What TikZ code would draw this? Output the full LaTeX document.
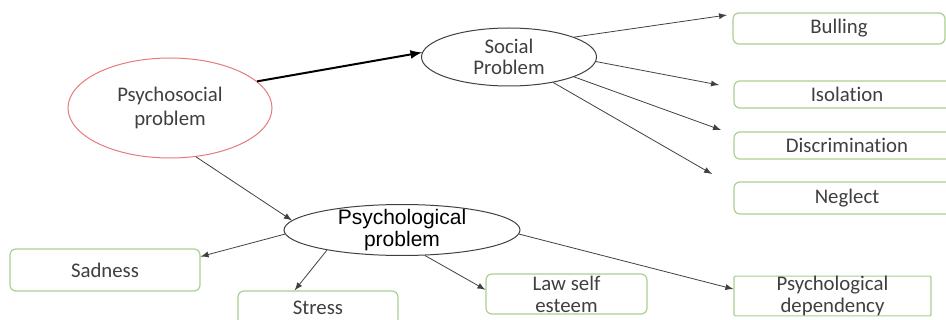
\documentclass[tikz,border=0pt]{standalone}
\usepackage{fontspec}
\setmainfont[Ligatures=NoCommon]{Carlito}
\newfontfamily\arialfont{Liberation Sans}
\usepackage{tikz}
\usetikzlibrary{shapes.geometric}
\definecolor{boxgreen}{HTML}{A9D08E}
\definecolor{ovalred}{HTML}{E57B7B}
\definecolor{txtgray}{HTML}{3F3F3F}
\definecolor{linegray}{HTML}{404040}

\begin{document}
\begin{tikzpicture}[x=0.5pt, y=-0.5pt, >=latex,
    oval/.style={ellipse, draw=linegray, line width=0.5pt, inner sep=0pt},
    leaf/.style={draw=boxgreen, line width=0.6pt, rounded corners=3pt, inner sep=0pt,
        text=txtgray, align=center, font=\fontsize{10.4}{11}\selectfont},
    link/.style={->, draw=linegray, line width=0.4pt}]
            \useasboundingbox (0,0) rectangle (946,320);
            % ovals
            \node[oval, draw=ovalred, minimum width=102pt, minimum height=50pt,
                label={[text=txtgray, align=center, font=\fontsize{10.4}{12}\selectfont]center:Psychosocial\\problem}] (psychosocial) at (170,108) {};
            \node[oval, minimum width=87.5pt, minimum height=29pt,
                label={[text=txtgray, align=center, font=\fontsize{10.4}{10.5}\selectfont]center:Social\\Problem}] (social) at (509,57) {};
            \node[oval, minimum width=118pt, minimum height=25.5pt,
                label={[align=center, font=\arialfont\fontsize{10.5}{9.5}\selectfont]center:Psychological\\problem}] (psychological) at (402,230) {};
            % social side
            \node[leaf, minimum width=106pt, minimum height=15.5pt] (bulling) at (839,28.5) {Bulling};
            \node[leaf, minimum width=113pt, minimum height=13.5pt] (isolation) at (847,94.5) {Isolation};
            \node[leaf, minimum width=113pt, minimum height=13.5pt] (discrimination) at (847,145.5) {Discrimination};
            \node[leaf, minimum width=113pt, minimum height=16pt] (neglect) at (847,198) {Neglect};
            % psychological side
            \node[leaf, minimum width=95pt, minimum height=21pt] (sadness) at (105,270) {Sadness};
            \node[leaf, minimum width=80pt, minimum height=17pt] (stress) at (318,308) {Stress};
            \node[leaf, minimum width=80.5pt, minimum height=20pt] (lawself) at (566.5,294) {Law self\\esteem};
            \node[leaf, rounded corners=0.5pt, minimum width=98.5pt, minimum height=18pt] (dependency) at (832.5,296) {Psychological\\dependency};
            % loose arrow ends
            \coordinate (tobulling) at (727,15);
            \coordinate (toisolation) at (719,85);
            \coordinate (todiscrimination) at (721,130);
            \coordinate (toneglect) at (712,174);
            % arrows
            \draw[->, line width=1pt] (psychosocial.17) -- (social.177);
            \draw[link] (psychosocial.-62) -- (psychological.175);
            \draw[link] (social.17) -- (tobulling);
            \draw[link] (social.-3) -- (toisolation);
            \draw[link] (social.-17) -- (todiscrimination);
            \draw[link] (social.-30) -- (toneglect);
            \draw[link] (psychological.182) -- (sadness.8);
            \draw[link] (psychological.195) -- (stress.143);
            \draw[link] (psychological.-48) -- (lawself.177);
            \draw[link] (psychological.-2) -- (dependency.176);
        \end{tikzpicture}
\end{document}
